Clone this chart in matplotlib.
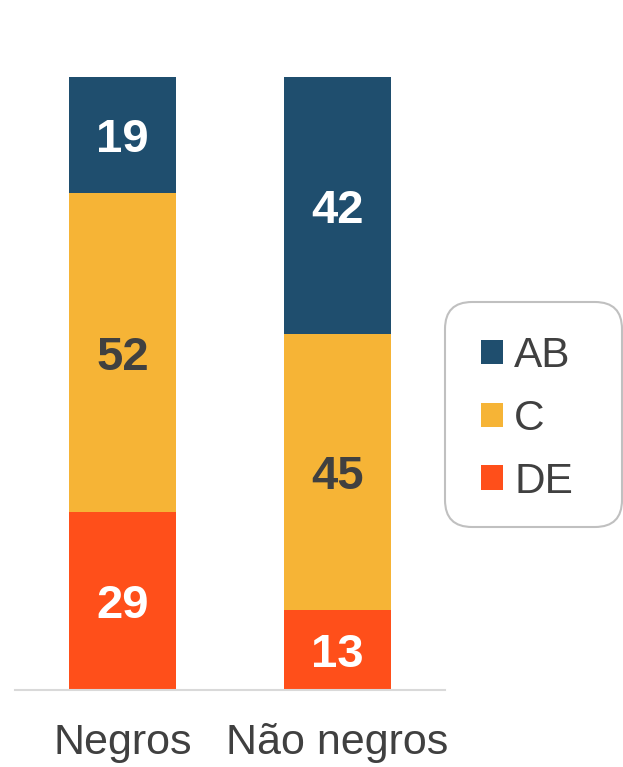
import matplotlib
matplotlib.use('Agg')
import matplotlib.pyplot as plt
from matplotlib.patches import Patch, FancyBboxPatch

# Data (percent)
groups = ['Negros', 'Não negros']
classes = ['AB', 'C', 'DE']
ab = [19, 42]
c = [52, 45]
de = [29, 13]

colors = {'AB': '#1F4E6E', 'C': '#F6B436', 'DE': '#FF4F1A'}
label_colors = {'AB': 'white', 'C': '#404040', 'DE': 'white'}
text_gray = '#404040'

plt.rcParams['font.family'] = ['Liberation Sans', 'DejaVu Sans']

fig = plt.figure(figsize=(6.23, 7.67), dpi=100)
ax = fig.add_axes([15 / 623, 77 / 767, 430 / 623, 613 / 767])

x = list(range(len(groups)))
series = [('DE', de), ('C', c), ('AB', ab)]
bottom = [0] * len(groups)
for name, vals in series:
    ax.bar(x, vals, width=0.5, bottom=bottom, color=colors[name], linewidth=0)
    for xi, v, b in zip(x, vals, bottom):
        ax.text(xi, b + v / 2, str(v), ha='center', va='center_baseline',
                fontsize=34, fontweight='bold', color=label_colors[name])
    bottom = [b + v for b, v in zip(bottom, vals)]

ax.set_xlim(-0.5, 1.5)
ax.set_ylim(0, 100)
ax.set_xticks(x)
ax.set_xticklabels(groups, fontsize=31, color=text_gray)
ax.tick_params(axis='x', length=0, pad=24)
ax.set_yticks([])
for s in ['top', 'right', 'left']:
    ax.spines[s].set_visible(False)
ax.spines['bottom'].set_color('#D9D9D9')
ax.spines['bottom'].set_linewidth(1.5)

# legend box drawn separately (wider than its content in the reference)
box = FancyBboxPatch((445 / 100, (767 - 527) / 100), 177 / 100, 225 / 100,
                     boxstyle='round,pad=0,rounding_size=0.27',
                     transform=fig.dpi_scale_trans, facecolor='white',
                     edgecolor='#C0C0C0', linewidth=1.5)
fig.add_artist(box)

handles = [Patch(facecolor=colors[k], edgecolor='none') for k in classes]
leg = fig.legend(handles, classes, loc='upper left',
                 bbox_to_anchor=(481 / 623, 1 - 336 / 767), borderaxespad=0,
                 fontsize=30.5, handlelength=0.52, handleheight=0.52,
                 handletextpad=0.26, labelspacing=0.54, borderpad=0,
                 frameon=False)
for t in leg.get_texts():
    t.set_color(text_gray)

fig.savefig('out.png', dpi=100)
